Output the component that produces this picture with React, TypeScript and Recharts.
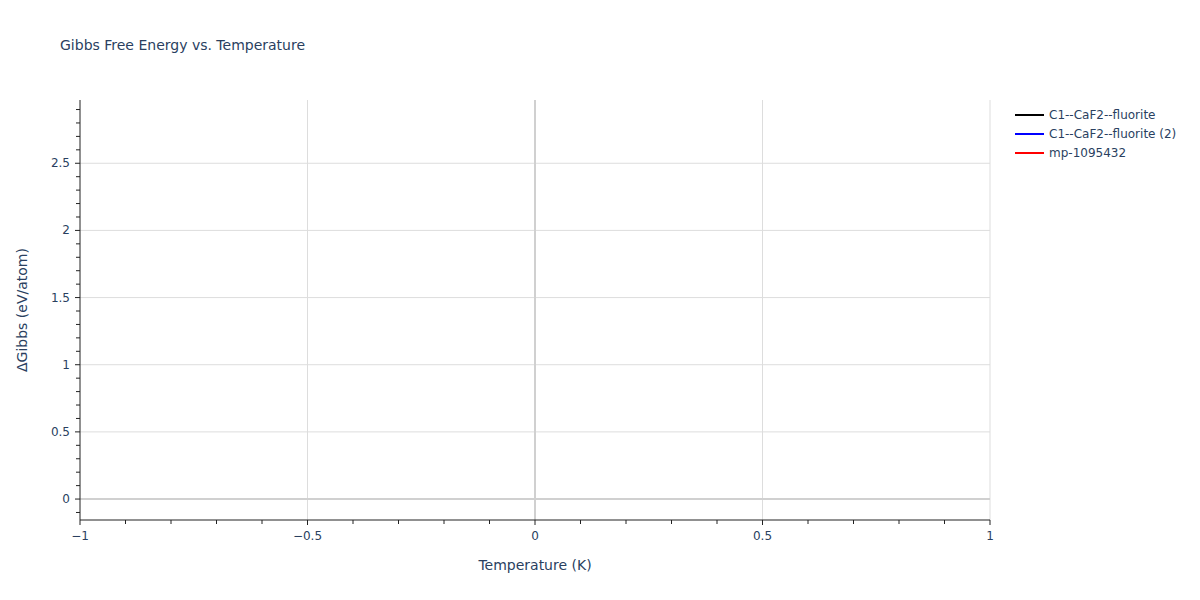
import React from 'react';
import { LineChart, Line, XAxis, YAxis, ReferenceLine } from 'recharts';

// Series names and colors (plot shows no visible points)
const SERIES_NAMES = ['C1--CaF2--fluorite', 'C1--CaF2--fluorite (2)', 'mp-1095432'];
const SERIES_COLORS = ['#000000', '#0000ff', '#ff0000'];
const SERIES_DATA: { temperature: number; gibbs: number }[][] = [[], [], []];

const X_TICKS = [-1, -0.9, -0.8, -0.7, -0.6, -0.5, -0.4, -0.3, -0.2, -0.1, 0, 0.1, 0.2, 0.3, 0.4, 0.5, 0.6, 0.7, 0.8, 0.9, 1];
const X_MAJOR = [-1, -0.5, 0, 0.5, 1];
const X_LABELS = ['\u22121', '\u22120.5', '0', '0.5', '1'];
const X_GRID = [-0.5, 0.5, 1];

const Y_TICKS = [-0.1, 0, 0.1, 0.2, 0.3, 0.4, 0.5, 0.6, 0.7, 0.8, 0.9, 1, 1.1, 1.2, 1.3, 1.4, 1.5, 1.6, 1.7, 1.8, 1.9, 2, 2.1, 2.2, 2.3, 2.4, 2.5, 2.6, 2.7, 2.8, 2.9];
const Y_MAJOR = [0, 0.5, 1, 1.5, 2, 2.5];
const Y_LABELS = ['0', '0.5', '1', '1.5', '2', '2.5'];
const Y_GRID = [0.5, 1, 1.5, 2, 2.5];

const FONT = 'Verdana, "DejaVu Sans", sans-serif';
const TEXT_COLOR = '#2a3f5f';
const AXIS_COLOR = '#222222';
const GRID_COLOR = '#dddddd';
const ZERO_COLOR = '#d0d0d0';

const majorIndex = (list: number[], v: number) => list.findIndex((m) => Math.abs(m - v) < 1e-6);

const XTick = (props: any) => {
  const { x, y, payload } = props;
  const idx = majorIndex(X_MAJOR, payload.value);
  return (
    <g>
      <line x1={x} y1={y} x2={x} y2={y + (idx >= 0 ? 5 : 4)} stroke={AXIS_COLOR} strokeWidth={1} />
      {idx >= 0 && (
        <text x={x} y={y + 20} textAnchor="middle" fontSize={12} fill={TEXT_COLOR} fontFamily={FONT}>
          {X_LABELS[idx]}
        </text>
      )}
    </g>
  );
};

const YTick = (props: any) => {
  const { x, y, payload } = props;
  const idx = majorIndex(Y_MAJOR, payload.value);
  return (
    <g>
      <line x1={x} y1={y} x2={x - (idx >= 0 ? 5 : 4)} y2={y} stroke={AXIS_COLOR} strokeWidth={1} />
      {idx >= 0 && (
        <text x={x - 10} y={y + 4} textAnchor="end" fontSize={12} fill={TEXT_COLOR} fontFamily={FONT}>
          {Y_LABELS[idx]}
        </text>
      )}
    </g>
  );
};

const App = () => {
  return (
    <div style={{ position: 'absolute', left: 0, top: 0, width: 1200, height: 600, background: '#fff', fontFamily: FONT }}>
      <div style={{ position: 'absolute', left: 60, top: 36, fontSize: 14, lineHeight: '18px', color: TEXT_COLOR, whiteSpace: 'nowrap' }}>
        Gibbs Free Energy vs. Temperature
      </div>

      <LineChart width={1200} height={600} margin={{ top: 100, right: 210, bottom: 0, left: 0 }}>
        <XAxis
          type="number"
          dataKey="temperature"
          domain={[-1, 1]}
          ticks={X_TICKS}
          interval={0}
          allowDataOverflow
          height={80}
          tickSize={0}
          tickMargin={0}
          tickLine={false}
          tick={<XTick />}
          axisLine={false}
          label={{ value: 'Temperature (K)', position: 'insideBottom', offset: 30, fill: TEXT_COLOR, fontSize: 14, fontFamily: FONT }}
        />
        <YAxis
          type="number"
          domain={[-0.156, 2.971]}
          ticks={Y_TICKS}
          interval={0}
          allowDataOverflow
          width={80}
          tickSize={0}
          tickMargin={0}
          tickLine={false}
          tick={<YTick />}
          axisLine={false}
          label={{ value: '\u0394Gibbs (eV/atom)', angle: -90, position: 'insideLeft', offset: 22, fill: TEXT_COLOR, fontSize: 14, fontFamily: FONT, style: { textAnchor: 'middle' } }}
        />
        {X_GRID.map((v) => (
          <ReferenceLine key={`gx-${v}`} x={v} stroke={GRID_COLOR} strokeWidth={1} />
        ))}
        {Y_GRID.map((v) => (
          <ReferenceLine key={`gy-${v}`} y={v} stroke={GRID_COLOR} strokeWidth={1} />
        ))}
        <ReferenceLine x={0} stroke={ZERO_COLOR} strokeWidth={2} />
        <ReferenceLine y={0} stroke={ZERO_COLOR} strokeWidth={2} />
        {/* axis lines drawn on top of grid */}
        <ReferenceLine x={-1} stroke={AXIS_COLOR} strokeWidth={1} />
        <ReferenceLine y={-0.156} stroke={AXIS_COLOR} strokeWidth={1} />
        {SERIES_NAMES.map((name, i) => (
          <Line
            key={name}
            name={name}
            data={SERIES_DATA[i]}
            dataKey="gibbs"
            stroke={SERIES_COLORS[i]}
            strokeWidth={2}
            dot={false}
            isAnimationActive={false}
          />
        ))}
      </LineChart>

      <div style={{ position: 'absolute', left: 1015, top: 105 }}>
        {SERIES_NAMES.map((name, i) => (
          <div key={name} style={{ display: 'flex', alignItems: 'center', height: 19 }}>
            <div style={{ width: 29, height: 2, background: SERIES_COLORS[i], marginRight: 5 }} />
            <span style={{ fontSize: 12, color: TEXT_COLOR, whiteSpace: 'nowrap' }}>{name}</span>
          </div>
        ))}
      </div>
    </div>
  );
};

export default App;
